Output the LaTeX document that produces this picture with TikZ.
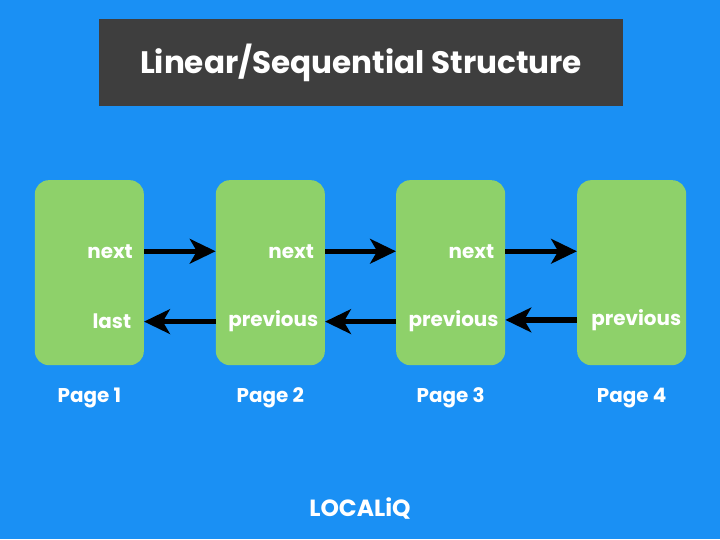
\documentclass[tikz,border=0pt]{standalone}
\usepackage{fontspec}
\setmainfont{Poppins}
\usetikzlibrary{arrows.meta, positioning}
\definecolor{bgblue}{HTML}{1A90F4}
\definecolor{titlegray}{HTML}{3E3E3E}
\definecolor{pagegreen}{HTML}{8ED16A}
\tikzset{
    page/.style={rectangle, fill=pagegreen, rounded corners=12pt, minimum width=3.27cm, minimum height=5.55cm},
    lbl/.style={text=white, font=\bfseries\fontsize{17}{20}\selectfont, anchor=east, inner sep=0pt},
    pagecap/.style={text=white, font=\bfseries\fontsize{17}{20}\selectfont},
    arrow/.style={line width=4.5pt, -{Stealth[length=22pt, width=21pt, inset=6pt]}}
}
\begin{document}
\begin{tikzpicture}
    \fill[bgblue] (0,0) rectangle (21.6,-16.17);
    \useasboundingbox (0,0) rectangle (21.6,-16.17);

    % Title
    \node (title) [fill=titlegray, minimum width=15.72cm, minimum height=2.61cm, text=white,
        font=\bfseries\fontsize{26.5}{30}\selectfont] at (10.83,-1.89) {Linear/Sequential Structure};

    % Pages
    \node (P1) [page] at (2.68,-8.18) {};
    \node (P2) [page] at (8.11,-8.18) {};
    \node (P3) [page] at (13.52,-8.18) {};
    \node (P4) [page] at (18.95,-8.18) {};

    % Labels
    \node (N1) [lbl] at ([xshift=-0.33cm, yshift=-2.14cm]P1.north east) {next};
    \node (N2) [lbl] at ([xshift=-0.33cm, yshift=-2.14cm]P2.north east) {next};
    \node (N3) [lbl] at ([xshift=-0.33cm, yshift=-2.14cm]P3.north east) {next};
    \node (L1) [lbl] at ([xshift=-0.38cm, yshift=-4.25cm]P1.north east) {last};
    \node (R2) [lbl] at ([xshift=-0.2cm, yshift=-4.25cm]P2.north east) {previous};
    \node (R3) [lbl] at ([xshift=-0.2cm, yshift=-4.25cm]P3.north east) {previous};
    \node (R4) [lbl] at ([xshift=-0.15cm, yshift=-4.2cm]P4.north east) {previous};

    % Arrows
    \draw [arrow] (P1.east |- N1) -- (P2.west |- N1);
    \draw [arrow] (P2.east |- N2) -- (P3.west |- N2);
    \draw [arrow] (P3.east |- N3) -- (P4.west |- N3);
    \draw [arrow] (P2.west |- R2) -- (P1.east |- R2);
    \draw [arrow] (P3.west |- R3) -- (P2.east |- R3);
    \draw [arrow] (P4.west |- R4) -- (P3.east |- R4);

    % Captions
    \node (C1) [pagecap, below=0.55cm of P1] {Page 1};
    \node (C2) [pagecap, below=0.55cm of P2] {Page 2};
    \node (C3) [pagecap, below=0.55cm of P3] {Page 3};
    \node (C4) [pagecap, below=0.55cm of P4] {Page 4};

    \node (logo) [text=white, font=\bfseries\fontsize{20}{24}\selectfont] at (10.8,-15.25) {LOCALiQ};
\end{tikzpicture}
\end{document}
